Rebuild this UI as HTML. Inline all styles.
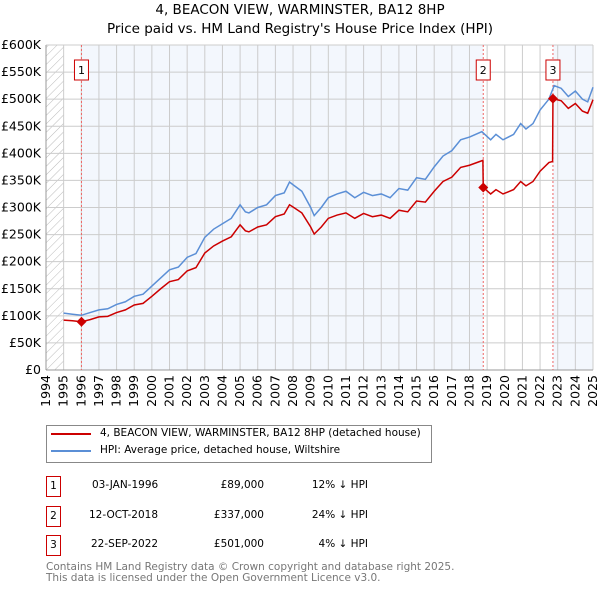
<!DOCTYPE html>
<html><head><meta charset="utf-8"><style>
body{margin:0;background:#fff;font-family:"DejaVu Sans","Liberation Sans",sans-serif}
#wrap{position:relative;width:600px;height:590px;overflow:hidden}
.t{position:absolute;font-size:10.5px;color:#000;white-space:nowrap}
.box{position:absolute;border:1px solid #c00;width:13px;height:19px;font-size:10.5px;text-align:center;line-height:19px}
</style></head><body><div id="wrap">
<div class="t" style="left:0;width:600px;text-align:center;top:1px;font-size:13.5px;line-height:19px">4, BEACON VIEW, WARMINSTER, BA12 8HP<br>Price paid vs. HM Land Registry's House Price Index (HPI)</div>
<svg id="chart" width="600" height="420" style="position:absolute;left:0;top:0;font-family:'DejaVu Sans',sans-serif"></svg>
<div style="position:absolute;left:46px;top:425px;width:384px;height:36px;border:1px solid #888"></div>
<div style="position:absolute;left:51px;top:433px;width:40px;height:2px;background:#c00"></div>
<div class="t" style="left:100px;top:427px">4, BEACON VIEW, WARMINSTER, BA12 8HP (detached house)</div>
<div style="position:absolute;left:51px;top:450px;width:40px;height:2px;background:#5b8fd6"></div>
<div class="t" style="left:100px;top:444px">HPI: Average price, detached house, Wiltshire</div>

<div class="box" style="left:46px;top:476px">1</div>
<div class="t" style="left:92px;top:479px">03-JAN-1996</div>
<div class="t" style="left:180px;width:84px;text-align:right;top:479px">£89,000</div>
<div class="t" style="left:290px;width:78px;text-align:right;top:479px">12% ↓ HPI</div>
<div class="box" style="left:46px;top:506px">2</div>
<div class="t" style="left:89px;top:509px">12-OCT-2018</div>
<div class="t" style="left:180px;width:84px;text-align:right;top:509px">£337,000</div>
<div class="t" style="left:290px;width:78px;text-align:right;top:509px">24% ↓ HPI</div>
<div class="box" style="left:46px;top:535px">3</div>
<div class="t" style="left:91px;top:538px">22-SEP-2022</div>
<div class="t" style="left:180px;width:84px;text-align:right;top:538px">£501,000</div>
<div class="t" style="left:290px;width:78px;text-align:right;top:538px">4% ↓ HPI</div>
<div class="t" style="left:46px;top:562px;color:#777;line-height:10.5px">Contains HM Land Registry data © Crown copyright and database right 2025.<br>This data is licensed under the Open Government Licence v3.0.</div>
</div>
<script>
const hpiDates=[1995,1995.5,1996,1996.5,1997,1997.5,1998,1998.5,1999,1999.5,2000,2000.5,2001,2001.5,2002,2002.5,2003,2003.5,2004,2004.5,2005,2005.3,2005.5,2006,2006.5,2007,2007.5,2007.8,2008,2008.5,2009,2009.2,2009.6,2010,2010.5,2011,2011.5,2012,2012.5,2013,2013.5,2014,2014.5,2015,2015.5,2016,2016.5,2017,2017.5,2018,2018.7,2019.2,2019.5,2019.9,2020.5,2020.9,2021.2,2021.6,2022,2022.5,2022.8,2023.2,2023.6,2024,2024.4,2024.7,2025];
const hpiValues=[105,103,101,106,111,113,121,126,136,140,155,170,185,190,208,215,245,260,270,280,305,292,290,300,305,322,327,347,342,330,300,285,300,318,325,330,318,328,322,325,318,335,332,355,352,375,395,405,425,430,440,425,435,425,435,455,445,455,480,500,525,520,505,515,500,495,522];
const propDates=[1995,1995.5,1996,1996.5,1997,1997.5,1998,1998.5,1999,1999.5,2000,2000.5,2001,2001.5,2002,2002.5,2003,2003.5,2004,2004.5,2005,2005.3,2005.5,2006,2006.5,2007,2007.5,2007.8,2008,2008.5,2009,2009.2,2009.6,2010,2010.5,2011,2011.5,2012,2012.5,2013,2013.5,2014,2014.5,2015,2015.5,2016,2016.5,2017,2017.5,2018,2018.76,2018.78,2019.2,2019.5,2019.9,2020.5,2020.9,2021.2,2021.6,2022,2022.5,2022.71,2022.73,2023.2,2023.6,2024,2024.4,2024.7,2025];
const propValues=[92,91,89,93,98,99,106,111,120,123,136,150,163,167,183,189,216,229,238,246,268,257,255,264,268,283,288,305,301,290,264,251,264,280,286,290,280,289,283,286,280,295,292,312,310,330,348,356,374,378,387,337,325,333,325,333,348,340,348,367,383,385,501,497,483,492,478,474,499];
const saleDates=[1996.01,2018.78,2022.73];
const saleValues=[89,337,501];
const saleLabels=["1","2","3"];
const yTicks=[0,50,100,150,200,250,300,350,400,450,500,550,600];
const xYears=[];for(let y=1994;y<=2025;y++)xYears.push(y);
const L=46,R=593,T=45,B=370;
const X=d=>L+(d-1994)/(2025-1994)*(R-L);
const Y=v=>B-v/600*(B-T);
const s=document.getElementById('chart');const NS='http://www.w3.org/2000/svg';
function el(tag,at){const e=document.createElementNS(NS,tag);for(const k in at)e.setAttribute(k,at[k]);s.appendChild(e);return e;}
const defs=el('defs',{});defs.innerHTML='<pattern id="h" width="6" height="6" patternUnits="userSpaceOnUse" patternTransform="rotate(45)"><line x1="0" y1="0" x2="0" y2="6" stroke="#bbb" stroke-width="1"/></pattern>';
let e=el('rect',{x:L,y:T,width:X(1995)-L,height:B-T,fill:'url(#h)'});

e=el('rect',{x:X(1996.01),y:T,width:X(2018.78)-X(1996.01),height:B-T,fill:'#f3f7fd'});

e=el('rect',{x:X(2022.73),y:T,width:R-X(2022.73),height:B-T,fill:'#f3f7fd'});

yTicks.forEach(v=>{let g=el('line',{x1:L,x2:R,y1:Y(v),y2:Y(v),stroke:'#ccc'});

let t=el('text',{x:L-5,y:Y(v)+4,'text-anchor':'end','font-size':12.5,fill:'#000'});t.textContent=v==0?'£0':'£'+v+'K';
});
xYears.forEach(y=>{let g=el('line',{x1:X(y),x2:X(y),y1:T,y2:B,stroke:'#ccc'});

let t=el('text',{x:X(y)+4,y:B+5,'text-anchor':'end','font-size':12.5,fill:'#000',transform:`rotate(-90 ${X(y)+4} ${B+5})`});t.textContent=y;
});
e=el('line',{x1:L,x2:L,y1:T,y2:B,stroke:'#999'});
e=el('line',{x1:L,x2:R,y1:B,y2:B,stroke:'#999'});
saleDates.forEach((d,i)=>{let g=el('line',{x1:X(d),x2:X(d),y1:T,y2:B,stroke:'#e66','stroke-dasharray':'2,2'});

let r=el('rect',{x:X(d)-7,y:60,width:14,height:20,fill:'#fff',stroke:'#c00'});

let t=el('text',{x:X(d),y:74,'text-anchor':'middle','font-size':11});t.textContent=saleLabels[i];
});
e=el('polyline',{points:hpiDates.map((d,i)=>X(d)+','+Y(hpiValues[i])).join(' '),fill:'none',stroke:'#5b8fd6','stroke-width':1.5});

e=el('polyline',{points:propDates.map((d,i)=>X(d)+','+Y(propValues[i])).join(' '),fill:'none',stroke:'#c00','stroke-width':1.5});

saleDates.forEach((d,i)=>{let p=el('path',{d:`M${X(d)},${Y(saleValues[i])-5}l5,5l-5,5l-5,-5z`,fill:'#c00'});
});
</script></body></html>
